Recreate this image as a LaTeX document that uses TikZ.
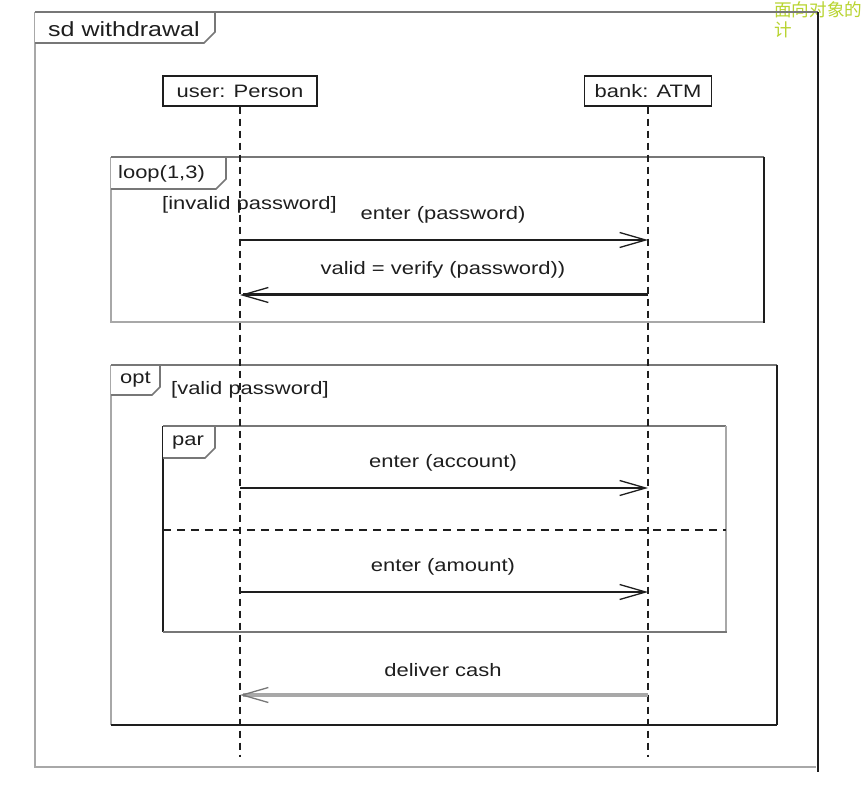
\documentclass[tikz,border=0pt]{standalone}
\usepackage{fontspec}
\setmainfont{Liberation Sans}[FakeStretch=1.22]
\newfontfamily\cjk{Noto Sans CJK SC}
\usetikzlibrary{arrows.meta}
\definecolor{lightgray}{HTML}{A8A8A8}
\definecolor{midgray}{HTML}{777777}
\definecolor{darkline}{HTML}{1E1E1E}
\definecolor{wmgreen}{HTML}{B8D430}
\begin{document}
\begin{tikzpicture}[x=1pt,y=-1pt,
  lbl/.style={font=\fontsize{18}{20}\selectfont, inner sep=0pt, text=darkline},
  lifebox/.style={draw=darkline, line width=1.3pt, fill=white, minimum height=30pt, inner sep=0pt, font=\fontsize{18}{20}\selectfont, text=darkline},
  lifeline/.style={draw=darkline, line width=2.2pt, dash pattern=on 7pt off 5pt},
  msg/.style={draw=darkline, line width=2pt, -{Straight Barb[length=26pt,width=15pt,line width=1.3pt]}},
  reply/.style={draw=darkline, line width=3pt, -{Straight Barb[length=26pt,width=15pt,line width=1.3pt]}},
  cash/.style={draw=lightgray, line width=4.5pt, -{Straight Barb[length=26pt,width=15pt,line width=1.3pt,color=midgray]}},
  lightside/.style={draw=lightgray, line width=2.8pt},
  midside/.style={draw=midgray, line width=2.2pt},
  darkside/.style={draw=darkline, line width=2.4pt},
  tab/.style={draw=midgray, line width=1.6pt, fill=white}
]
\useasboundingbox (0,0) rectangle (865,794);
\fill[white] (0,0) rectangle (865,794);

% watermark
\node[anchor=north west, inner sep=0pt, font=\cjk\fontsize{17.6}{20}\selectfont, text=wmgreen, align=left] (wm) at (774,1) {面向对象的\\计};

% outer frame
\draw[midside] (35,12) -- (818,12);
\draw[lightside] (35,12) -- (35,768);
\draw[lightside] (35,767) -- (816,767);
\draw[darkline, line width=2.6pt] (818,12) -- (818,772);
\draw[tab] (35,12) -- (215,12) -- (215,32) -- (204,43) -- (35,43);
\node[lbl, anchor=west, font=\fontsize{20.5}{22}\selectfont] (sd) at (48,29) {sd withdrawal};

% loop frame
\draw[midside] (111,157) -- (764,157);
\draw[lightside] (111,157) -- (111,323);
\draw[lightside] (111,322) -- (764,322);
\draw[darkside] (764,157) -- (764,323);
\draw[tab] (111,157) -- (226,157) -- (226,179) -- (216,189) -- (111,189);
\node[lbl, anchor=west] (loop) at (118,174) {loop(1,3)};
\node[lbl, anchor=west] (g1) at (162,205) {[invalid password]};

% opt frame
\draw[midside] (111,365) -- (777,365);
\draw[lightside] (111,365) -- (111,725);
\draw[darkside] (111,725) -- (777,725);
\draw[darkside] (777,365) -- (777,725);
\draw[tab] (111,365) -- (160,365) -- (160,387) -- (152,395) -- (111,395);
\node[lbl, anchor=west] (opt) at (120,380) {opt};
\node[lbl, anchor=west] (g2) at (171,390) {[valid password]};

% par frame
\draw[midside] (163,426) -- (726,426);
\draw[darkside] (163,426) -- (163,632);
\draw[lightside] (726,426) -- (726,632);
\draw[midside] (163,632) -- (727,632);
\draw[tab] (163,426) -- (215,426) -- (215,448) -- (205,458) -- (163,458);
\node[lbl, anchor=west] (par) at (172,443) {par};
\coordinate (sepL) at (163,530);
\coordinate (sepR) at (726,530);
\draw[darkline, line width=1.1pt, dash pattern=on 8pt off 6pt] (sepL) -- (sepR);

% lifelines
\node[lifebox, minimum width=154pt] (user) at (240,91) {user: Person};
\node[lifebox, minimum width=127pt] (bank) at (648,91) {bank: ATM};
\coordinate (userend) at (240,757);
\coordinate (bankend) at (648,757);
\draw[lifeline] (user.south) -- (userend);
\draw[lifeline] (bank.south) -- (bankend);

% messages
\coordinate (u1) at (240,240); \coordinate (b1) at (648,240);
\coordinate (u2) at (240,295); \coordinate (b2) at (648,295);
\coordinate (u3) at (240,488); \coordinate (b3) at (648,488);
\coordinate (u4) at (240,592); \coordinate (b4) at (648,592);
\coordinate (u5) at (240,695); \coordinate (b5) at (648,695);

\node[lbl] (m1) at (443,215) {enter (password)};
\draw[msg] (u1) -- (b1);
\node[lbl] (m2) at (443,270) {valid = verify (password))};
\draw[reply] (b2) -- (u2);
\node[lbl] (m3) at (443,463) {enter (account)};
\draw[msg] (u3) -- (b3);
\node[lbl] (m4) at (443,567) {enter (amount)};
\draw[msg] (u4) -- (b4);
\node[lbl] (m5) at (443,670) {deliver cash};
\draw[cash] (b5) -- (u5);
\end{tikzpicture}
\end{document}
